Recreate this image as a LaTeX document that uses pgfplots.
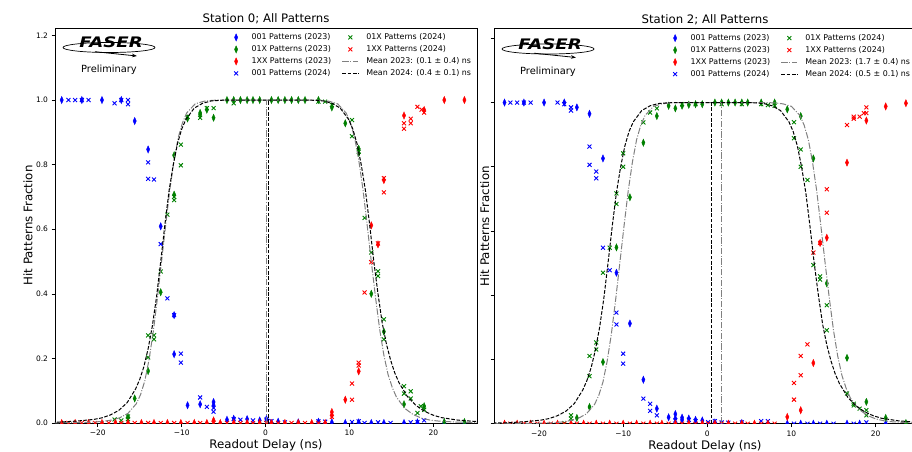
\documentclass[border=0pt]{standalone}
\usepackage{fontspec}
\setmainfont{DejaVu Sans}
\usepackage{pgfplots}
\pgfplotsset{compat=1.18}
\usetikzlibrary{arrows.meta}

\definecolor{mblue}{rgb}{0,0,1}
\definecolor{mgreen}{rgb}{0,0.5,0}
\definecolor{mred}{rgb}{1,0,0}
\definecolor{mgray}{rgb}{0.5,0.5,0.5}

\pgfplotsset{
  faser/.style={
    scale only axis, width=422pt, height=395pt,
    anchor=south west,
    ymin=0,
    axis line style={line width=0.6pt},
    tick style={line width=0.6pt, black},
    tick align=outside, major tick length=3.5pt,
    xtick pos=bottom, ytick pos=left,
    xtick={-20,-10,0,10,20}, xticklabels={−20,−10,0,10,20},
    ytick={0,0.2,0.4,0.6,0.8,1.0,1.2},
    ticklabel style={font=\fontsize{7.5}{9}\selectfont},
    label style={font=\fontsize{11.8}{13}\selectfont},
    title style={font=\fontsize{11.7}{13}\selectfont, at={(axis description cs:0.5,1)}, anchor=base, yshift=-0.5pt},
    xlabel={Readout Delay (ns)},
    ylabel={Hit Patterns Fraction},
    xlabel style={at={(axis description cs:0.5,-0.056)}, anchor=center},
    clip marker paths=true,
    legend columns=2,
    legend cell align=left,
    legend style={draw=none, fill=none, at={(axis description cs:0.997,0.995)}, anchor=north east,
      font=\fontsize{7.9}{9}\selectfont, row sep=1.5pt,
      nodes={inner sep=1.5pt},
      /tikz/every odd column/.append style={column sep=6pt},
      /tikz/every even column/.append style={column sep=9pt}},
    legend image code/.code={\path[draw=none, fill=none] (0pt,-3pt) rectangle (16pt,3pt);
      \draw[mark repeat=2,mark phase=2,##1] plot coordinates {(0pt,0pt) (8pt,0pt) (16pt,0pt)};},
  },
  d23/.style={only marks, mark=diamond*, mark size=3.6pt, mark options={xscale=0.6, solid}},
  x24/.style={only marks, mark=x, mark size=2.8pt, mark options={line width=0.9pt, solid}},
  m23/.style={mgray, line width=1pt, dash pattern=on 6.4pt off 1.6pt on 1pt off 1.6pt, no marks},
  m24/.style={black, line width=1pt, dash pattern=on 3.7pt off 1.6pt, no marks},
}

\newcommand{\faserlogo}[2]{%
  \begin{scope}[shift={(#1,#2)}]
    \draw[line width=0.7pt] (109pt,403.5pt) ellipse [x radius=46pt, y radius=5pt];
    \node[font=\fontsize{14.5}{15}\selectfont\bfseries\itshape, xscale=1.25] at (111pt,408.3pt) {FASER};
    \draw[line width=0.8pt, -{Stealth[length=5pt,width=3.5pt]}] (95pt,399.3pt) -- (137pt,395pt);
    \node[font=\fontsize{9.85}{11}\selectfont] at (109pt,381pt) {Preliminary};
  \end{scope}}

\begin{document}
\begin{tikzpicture}
\path[use as bounding box] (0pt,0pt) rectangle (912pt,451pt);

% ---------------- Station 0 ----------------
\begin{axis}[faser, at={(55pt,28pt)},
  xmin=-25.1, xmax=25.2, ymax=1.223,
  title={Station 0; All Patterns},
  ylabel style={at={(axis description cs:-0.064,0.5)}, anchor=center},
  yticklabels={0.0,0.2,0.4,0.6,0.8,1.0,1.2}]

\addlegendimage{d23, mblue}\addlegendentry{001 Patterns (2023)}
\addlegendimage{x24, mgreen}\addlegendentry{01X Patterns (2024)}
\addlegendimage{d23, mgreen}\addlegendentry{01X Patterns (2023)}
\addlegendimage{x24, mred}\addlegendentry{1XX Patterns (2024)}
\addlegendimage{d23, mred}\addlegendentry{1XX Patterns (2023)}
\addlegendimage{m23}\addlegendentry{Mean 2023: (0.1 ± 0.4) ns}
\addlegendimage{x24, mblue}\addlegendentry{001 Patterns (2024)}
\addlegendimage{m24}\addlegendentry{Mean 2024: (0.4 ± 0.1) ns}

% 001 2023
\addplot[d23, mblue, forget plot] coordinates {
(-24.3,1.0) (-21.9,1.0) (-19.5,1.0) (-17.2,1.0) (-15.6,0.935) (-14.0,0.847)
(-12.5,0.609) (-10.9,0.334) (-10.9,0.213) (-9.3,0.055) (-7.8,0.058) (-6.2,0.065)
(-6.2,0.055) (-4.6,0.010) (-3.8,0.013) (-2.2,0.012) (-0.7,0.008) (0.1,0.012)
(1.5,0.004) (3.9,0.002) (6.3,0.004) (7.9,0.002) (9.5,0) (11.1,0.002) (12.6,0)
(14.1,0) (16.5,0) (18.1,0.002) (21.3,0) (23.7,0)};
% 001 2024
\addplot[x24, mblue, forget plot] coordinates {
(-23.5,1.0) (-22.7,1.0) (-21.9,1.0) (-21.1,1.0) (-18.0,0.99) (-17.2,1.0)
(-16.4,1.0) (-16.4,0.987) (-14.0,0.807) (-14.0,0.756) (-13.3,0.754) (-12.5,0.554)
(-11.7,0.386) (-10.9,0.334) (-10.1,0.215) (-10.1,0.187) (-7.8,0.079) (-7.0,0.050)
(-6.2,0.047) (-6.2,0.035) (-3.8,0.012) (-3.0,0.010) (-1.5,0.008) (0.1,0.010)
(0.7,0.006) (2.3,0.002) (6.3,0.005) (7.1,0.004) (10.3,0.003) (11.1,0.005)
(11.8,0) (13.4,0.002) (14.9,0) (17.3,0.002) (18.1,0.003) (18.9,0.008)};
% 01X 2023
\addplot[d23, mgreen, forget plot] coordinates {
(-16.4,0.018) (-15.6,0.076) (-14.0,0.161) (-12.5,0.405) (-10.9,0.707) (-10.9,0.829)
(-9.3,0.943) (-7.8,0.96) (-7.8,0.955) (-7.0,0.97) (-6.2,0.945) (-4.6,1.0)
(-3.8,1.0) (-3.0,1.0) (-2.2,1.0) (-1.5,1.0) (-0.7,1.0) (0.7,1.0) (1.5,1.0)
(2.3,1.0) (3.1,1.0) (3.9,1.0) (4.7,1.0) (6.3,1.0) (7.9,0.977) (9.5,0.928)
(11.1,0.849) (11.1,0.836) (12.6,0.40) (14.1,0.283) (16.5,0.058) (18.9,0.052)
(21.3,0.003) (23.7,0.003)};
% 01X 2024
\addplot[x24, mgreen, forget plot] coordinates {
(-18.0,0.011) (-17.2,0.008) (-16.4,0.020) (-16.4,0.012) (-14.0,0.203) (-14.0,0.271)
(-13.3,0.272) (-13.3,0.259) (-12.5,0.469) (-11.7,0.645) (-10.9,0.69) (-10.9,0.70)
(-10.1,0.798) (-10.1,0.862) (-9.3,0.948) (-7.8,0.945) (-7.0,0.975) (-6.2,0.975)
(-3.8,0.99) (6.3,0.995) (7.1,0.995) (7.9,0.985) (10.3,0.938) (10.3,0.888)
(11.1,0.84) (11.8,0.635) (12.6,0.528) (13.4,0.47) (13.4,0.455) (14.1,0.321)
(14.1,0.259) (16.5,0.114) (16.5,0.091) (17.3,0.098) (17.3,0.076) (18.1,0.031)
(18.5,0.052) (18.9,0.041)};
% 1XX 2023
\addplot[d23, mred, forget plot] coordinates {
(-24.3,0) (-22.7,0) (-21.1,0) (-19.5,0) (-17.9,0) (-16.4,0) (-14.8,0) (-13.3,0)
(-11.7,0) (-10.1,0) (-8.5,0) (-7.0,0) (-5.4,0) (-3.8,0) (-2.2,0) (-0.7,0) (0.7,0)
(2.3,0) (3.9,0) (5.5,0) (7.1,0)
(-6.2,0.008) (7.9,0.034) (7.9,0.024) (9.5,0.072) (11.1,0.16) (12.6,0.612)
(13.4,0.553) (14.1,0.752) (16.5,0.952) (18.9,0.969) (21.3,1.0) (23.7,1.0)};
% 1XX 2024
\addplot[x24, mred, forget plot] coordinates {
(-23.5,0) (-21.9,0) (-20.3,0) (-18.7,0) (-17.2,0) (-15.6,0) (-14.0,0) (-12.5,0)
(-10.9,0) (-9.3,0) (-7.8,0) (-6.2,0) (-4.6,0) (-3.0,0) (-1.5,0) (0.1,0) (1.5,0)
(3.1,0) (4.7,0) (6.3,0)
(7.9,0.019) (10.3,0.072) (10.3,0.122) (11.1,0.187) (11.1,0.178) (11.8,0.404)
(12.6,0.498) (13.4,0.556) (14.1,0.758) (14.1,0.714) (16.5,0.928) (16.5,0.911)
(17.3,0.942) (17.3,0.928) (18.1,0.979) (18.6,0.97) (18.9,0.961)};

% fitted curves
\addplot[m23, forget plot] coordinates {
(-25.4,0.0005) (-22.4,0.0012) (-20.4,0.003) (-19.4,0.005) (-18.4,0.009) (-17.4,0.016)
(-16.4,0.03) (-15.4,0.06) (-14.9,0.088) (-14.4,0.13) (-13.9,0.195) (-13.4,0.28)
(-12.9,0.385) (-12.4,0.5) (-11.9,0.615) (-11.4,0.725) (-10.9,0.815) (-10.4,0.885)
(-9.9,0.93) (-9.4,0.96) (-8.4,0.988) (-7.4,0.996) (-6.4,0.999) (-5.4,1.0)
(5.6,1.0) (6.6,0.999) (7.6,0.996) (8.6,0.988) (9.6,0.96) (10.1,0.93) (10.6,0.885)
(11.1,0.815) (11.6,0.725) (12.1,0.615) (12.6,0.5) (13.1,0.39) (13.6,0.29)
(14.1,0.21) (14.6,0.15) (15.1,0.11) (15.6,0.08) (16.6,0.045) (17.6,0.026)
(18.6,0.015) (19.6,0.009) (20.6,0.006) (22.6,0.003) (24.6,0.0015) (25.6,0.001)};
\addplot[m24, forget plot] coordinates {
(-25.5,0.0025) (-24.5,0.003) (-22.5,0.006) (-20.5,0.011) (-19.5,0.016) (-18.5,0.025)
(-17.5,0.039) (-16.5,0.063) (-15.5,0.105) (-15.0,0.135) (-14.5,0.175) (-14.0,0.23)
(-13.5,0.30) (-13.0,0.39) (-12.5,0.5) (-12.0,0.615) (-11.5,0.72) (-11.0,0.80)
(-10.5,0.865) (-10.0,0.91) (-9.5,0.94) (-8.5,0.975) (-7.5,0.99) (-6.5,0.997)
(-5.5,0.999) (-4.5,1.0)
(4.9,1.0) (5.9,0.999) (6.9,0.997) (7.9,0.99) (8.9,0.975) (9.9,0.94) (10.4,0.91)
(10.9,0.865) (11.4,0.80) (11.9,0.72) (12.4,0.615) (12.9,0.5) (13.4,0.40) (13.9,0.31)
(14.4,0.245) (14.9,0.195) (15.4,0.155) (15.9,0.125) (16.9,0.082) (17.9,0.055)
(18.9,0.037) (19.9,0.025) (20.9,0.017) (22.9,0.009) (24.9,0.005) (25.9,0.004)};
\addplot[m23, forget plot] coordinates {(0.1,0) (0.1,1.0)};
\addplot[m24, forget plot] coordinates {(0.4,0) (0.4,1.0)};
\end{axis}

% ---------------- Station 2 ----------------
\begin{axis}[faser, at={(494pt,27.3pt)},
  xmin=-25.35, xmax=24.8, ymax=1.23,
  title={Station 2; All Patterns},
  ylabel style={at={(axis description cs:-0.022,0.5)}, anchor=center},
  yticklabels={,,,,,,}]

\addlegendimage{d23, mblue}\addlegendentry{001 Patterns (2023)}
\addlegendimage{x24, mgreen}\addlegendentry{01X Patterns (2024)}
\addlegendimage{d23, mgreen}\addlegendentry{01X Patterns (2023)}
\addlegendimage{x24, mred}\addlegendentry{1XX Patterns (2024)}
\addlegendimage{d23, mred}\addlegendentry{1XX Patterns (2023)}
\addlegendimage{m23}\addlegendentry{Mean 2023: (1.7 ± 0.4) ns}
\addlegendimage{x24, mblue}\addlegendentry{001 Patterns (2024)}
\addlegendimage{m24}\addlegendentry{Mean 2024: (0.5 ± 0.1) ns}

% 001 2023
\addplot[d23, mblue, forget plot] coordinates {
(-24.1,1.0) (-21.8,1.0) (-19.4,1.0) (-17.0,1.0) (-15.5,0.985) (-14.0,0.965)
(-12.4,0.826) (-10.8,0.47) (-9.2,0.312) (-7.6,0.137) (-6.0,0.047) (-4.6,0.02)
(-3.8,0.03) (-3.8,0.016) (-3.0,0.019) (-3.0,0.012) (-2.2,0.016) (-1.4,0.012)
(-0.6,0.01) (0.9,0.004) (4.1,0.002) (9.5,0) (11.1,0) (12.6,0) (14.2,0) (16.6,0)
(18.1,0) (21.2,0)};
% 001 2024
\addplot[x24, mblue, forget plot] coordinates {
(-23.4,1.0) (-22.6,1.0) (-21.8,1.0) (-21.0,1.0) (-17.8,1.0) (-17.0,0.995)
(-16.2,0.985) (-16.2,0.975) (-14.0,0.863) (-14.0,0.806) (-13.2,0.785) (-13.2,0.764)
(-12.4,0.548) (-11.6,0.478) (-10.8,0.346) (-10.8,0.309) (-10.0,0.218) (-10.0,0.187)
(-7.6,0.078) (-6.8,0.062) (-6.8,0.04) (-6.0,0.026) (-3.8,0.01) (-2.2,0.012)
(-1.4,0.008) (0.1,0.005) (0.9,0.008) (1.7,0.004) (2.5,0.003) (4.1,0.004)
(6.4,0.008) (7.2,0.008) (10.3,0) (11.9,0) (13.4,0) (15.0,0) (17.4,0) (18.9,0.004)};
% 01X 2023
\addplot[d23, mgreen, forget plot] coordinates {
(-15.5,0.018) (-14.0,0.052) (-12.4,0.192) (-10.8,0.549) (-9.2,0.705) (-7.6,0.875)
(-6.0,0.958) (-4.6,0.99) (-3.8,0.982) (-3.0,0.99) (-2.2,0.993) (-1.4,0.995)
(-0.6,0.995) (0.9,1.0) (1.7,1.0) (2.5,1.0) (3.3,1.0) (4.1,1.0) (4.8,1.0) (6.4,1.0)
(8.0,1.0) (9.5,0.979) (11.1,0.958) (12.6,0.826) (14.2,0.437) (16.6,0.205)
(18.9,0.068) (21.2,0.018) (23.6,0.002)};
% 01X 2024
\addplot[x24, mgreen, forget plot] coordinates {
(-17.0,0.002) (-16.2,0.016) (-16.2,0.026) (-14.0,0.148) (-14.0,0.211) (-13.2,0.231)
(-13.2,0.253) (-12.4,0.47) (-11.6,0.548) (-10.8,0.684) (-10.8,0.717) (-10.0,0.80)
(-10.0,0.842) (-7.6,0.938) (-6.8,0.969) (-6.0,0.982) (-3.0,0.995) (-1.4,0.995)
(1.7,0.995) (4.1,0.995) (6.4,0.995) (7.2,0.992) (8.0,0.99) (10.3,0.939) (10.3,0.889)
(11.1,0.854) (11.1,0.80) (11.9,0.759) (12.6,0.494) (13.4,0.459) (13.4,0.449)
(14.2,0.369) (14.2,0.291) (16.6,0.094) (17.4,0.062) (17.4,0.057) (18.1,0.047)
(18.9,0.042) (18.9,0.026)};
% 1XX 2023
\addplot[d23, mred, forget plot] coordinates {
(-24.1,0) (-22.6,0) (-21.0,0) (-19.4,0) (-17.8,0) (-16.2,0) (-14.7,0) (-13.2,0)
(-11.6,0) (-10.0,0) (-8.4,0) (-6.8,0) (-5.4,0) (-3.8,0) (-2.2,0) (-0.6,0) (0.9,0)
(2.5,0) (4.1,0) (5.6,0) (7.2,0)
(9.5,0.021) (11.1,0.042) (12.6,0.189) (13.4,0.563) (14.2,0.579) (16.6,0.813)
(18.9,0.944) (21.2,0.988) (23.6,0.998)};
% 1XX 2024
\addplot[x24, mred, forget plot] coordinates {
(-23.4,0) (-21.8,0) (-20.2,0) (-18.6,0) (-17.0,0) (-15.5,0) (-14.0,0) (-12.4,0)
(-10.8,0) (-9.2,0) (-7.6,0) (-6.0,0) (-4.6,0) (-3.0,0) (-1.4,0) (0.1,0) (1.7,0)
(3.3,0) (4.8,0) (6.4,0) (8.0,0)
(10.3,0.075) (10.3,0.127) (11.1,0.151) (11.1,0.211) (11.9,0.247) (12.6,0.533)
(13.4,0.563) (14.2,0.657) (14.2,0.73) (16.6,0.93) (17.4,0.956) (17.4,0.95)
(18.1,0.956) (18.6,0.967) (18.9,0.985) (18.9,0.967)};

% fitted curves
\addplot[m23, forget plot] coordinates {
(-25.4,0.0003) (-23.4,0.0005) (-20.4,0.0012) (-18.4,0.003) (-17.4,0.005) (-16.4,0.009)
(-15.4,0.016) (-14.4,0.03) (-13.4,0.06) (-12.9,0.088) (-12.4,0.13) (-11.9,0.195)
(-11.4,0.28) (-10.9,0.385) (-10.4,0.5) (-9.9,0.615) (-9.4,0.725) (-8.9,0.815)
(-8.4,0.885) (-7.9,0.93) (-7.4,0.96) (-6.4,0.988) (-5.4,0.996) (-4.4,0.999) (-3.4,1.0)
(7.0,1.0) (8.0,0.999) (9.0,0.996) (10.0,0.988) (11.0,0.96) (11.5,0.93) (12.0,0.885)
(12.5,0.815) (13.0,0.725) (13.5,0.615) (14.0,0.5) (14.5,0.39) (15.0,0.29)
(15.5,0.21) (16.0,0.15) (16.5,0.11) (17.0,0.08) (18.0,0.045) (19.0,0.026)
(20.0,0.015) (21.0,0.009) (22.0,0.006) (24.0,0.003) (26.0,0.0015)};
\addplot[m24, forget plot] coordinates {
(-25.5,0.002) (-24.8,0.0025) (-23.8,0.003) (-21.8,0.006) (-19.8,0.011) (-18.8,0.016)
(-17.8,0.025) (-16.8,0.039) (-15.8,0.063) (-14.8,0.105) (-14.3,0.135) (-13.8,0.175)
(-13.3,0.23) (-12.8,0.30) (-12.3,0.39) (-11.8,0.5) (-11.3,0.615) (-10.8,0.72)
(-10.3,0.80) (-9.8,0.865) (-9.3,0.91) (-8.8,0.94) (-7.8,0.975) (-6.8,0.99)
(-5.8,0.997) (-4.8,0.999) (-3.8,1.0)
(4.7,1.0) (5.7,0.999) (6.7,0.997) (7.7,0.99) (8.7,0.975) (9.7,0.94) (10.2,0.91)
(10.7,0.865) (11.2,0.80) (11.7,0.72) (12.2,0.615) (12.7,0.5) (13.2,0.40) (13.7,0.31)
(14.2,0.245) (14.7,0.195) (15.2,0.155) (15.7,0.125) (16.7,0.082) (17.7,0.055)
(18.7,0.037) (19.7,0.025) (20.7,0.017) (22.7,0.009) (24.7,0.005) (25.7,0.004)};
\addplot[m23, forget plot] coordinates {(1.7,0) (1.7,1.0)};
\addplot[m24, forget plot] coordinates {(0.5,0) (0.5,1.0)};
\end{axis}

\faserlogo{0pt}{0pt}
\faserlogo{439pt}{-1.5pt}
\end{tikzpicture}
\end{document}
